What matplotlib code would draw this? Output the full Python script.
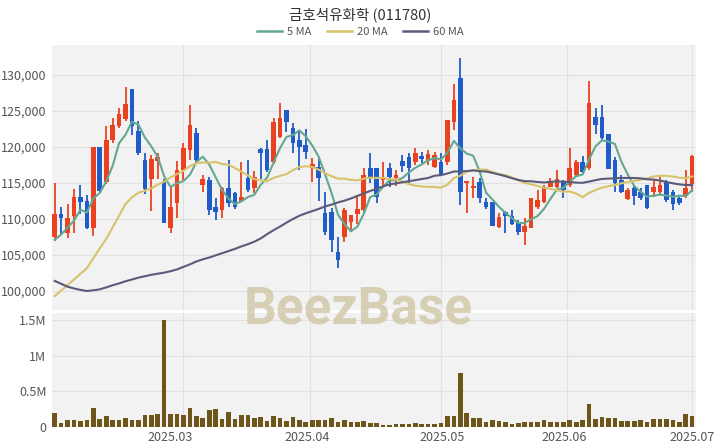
import matplotlib
matplotlib.use('Agg')
import matplotlib.pyplot as plt
import numpy as np
from matplotlib.lines import Line2D
from matplotlib.ticker import FuncFormatter, FixedLocator, NullFormatter, FixedFormatter

plt.rcParams['font.family'] = ['Noto Sans CJK KR', 'DejaVu Sans']

title = '금호석유화학 (011780)'

opens = [107500, 110700, 108080, 110430, 113100, 112545, 108785, 120065, 115130, 121005,
         122885, 123825, 128055, 122180, 118185, 115600, 118100, 115130, 108785, 112200,
         116800, 119600, 121900, 114700, 115400, 111700, 111250, 114250, 113550, 112500,
         115650, 114250, 119700, 119700, 117950, 121450, 125150, 122600, 120950, 120300,
         117100, 117250, 110800, 111000, 105450, 107550, 109650, 110650, 111250, 117150,
         117050, 115400, 117050, 115650, 118050, 118650, 117850, 118700, 118050, 117250,
         117850, 117850, 123500, 129550, 115050, 114250, 115200, 112400, 112400, 108950,
         111000, 110400, 109650, 108250, 108800, 111700, 112400, 114500, 114500, 115200,
         114700, 116100, 117850, 117050, 124200, 124200, 121750, 118200, 115400, 112800,
         114250, 113800, 114700, 113700, 113700, 115200, 113800, 112850, 113250, 114800]
highs = [115000, 111600, 112075, 114190, 114750, 113350, 120065, 120065, 122885, 124060,
         125470, 128290, 128055, 123590, 119125, 118890, 119200, 115600, 114425, 118000,
         120600, 125800, 122700, 116100, 115800, 112900, 114500, 118200, 113800, 117950,
         118200, 116600, 119900, 120950, 124000, 126150, 125150, 123300, 122350, 122500,
         118500, 118400, 113800, 111500, 107550, 111500, 110550, 113350, 117050, 119100,
         117050, 117950, 117750, 116800, 118900, 119100, 119900, 119300, 119600, 119350,
         119100, 123800, 128700, 132300, 115300, 115900, 115750, 112950, 112400, 110800,
         111100, 111250, 109850, 110100, 112900, 114000, 114700, 115750, 116800, 115400,
         119900, 118200, 118800, 129150, 125350, 125850, 121750, 118650, 116100, 114350,
         114700, 114250, 114700, 115400, 115900, 115400, 114000, 113100, 116800, 118950]
lows = [107000, 107900, 107375, 108080, 110665, 108550, 107610, 113800, 114900, 120535,
        122650, 123590, 121710, 118890, 113485, 111135, 115600, 109400, 108080, 110100,
        115400, 118200, 117950, 113800, 110550, 109850, 110100, 111700, 111450, 112400,
        113800, 113550, 115500, 116550, 117700, 121200, 122100, 119100, 116800, 118400,
        115200, 112500, 107800, 105450, 103150, 106850, 108250, 109250, 111000, 114950,
        112200, 114700, 114500, 114600, 116550, 115000, 117500, 117800, 117500, 117050,
        116000, 117500, 122350, 111950, 110800, 112850, 112200, 111400, 109050, 108800,
        108000, 109200, 107800, 106400, 108700, 111450, 112200, 114450, 114250, 112850,
        114500, 115900, 116200, 116800, 121750, 120950, 116900, 113800, 113550, 112650,
        111950, 112650, 111450, 113100, 113350, 112400, 111200, 111950, 112950, 113800]
closes = [110700, 110200, 110195, 113015, 112300, 108785, 120065, 113955, 121005, 123120,
          124530, 125940, 122885, 119125, 114190, 118325, 118650, 109490, 111605, 116800,
          119800, 123050, 118200, 115500, 111250, 111000, 114250, 112200, 111700, 113100,
          114000, 115800, 119200, 116800, 123500, 124000, 123500, 120500, 120050, 119300,
          117700, 115650, 108250, 107100, 104300, 111250, 110550, 111400, 116100, 115900,
          113100, 115900, 115900, 116100, 117400, 117050, 119100, 118300, 119000, 118900,
          116100, 123750, 126500, 113800, 115300, 114600, 112850, 111700, 109050, 110250,
          110450, 109250, 108250, 109050, 112850, 112650, 114250, 115250, 115550, 114000,
          117050, 117850, 116500, 126050, 123050, 121200, 116950, 114950, 113800, 114000,
          113250, 112950, 111500, 114500, 114700, 112650, 112100, 112200, 114250, 118800]
volumes = [197000, 56000, 103000, 103000, 84000, 103000, 267000, 117000, 150000, 103000,
           103000, 127000, 94000, 103000, 164000, 173000, 187000, 1500000, 187000, 187000,
           173000, 267000, 155000, 127000, 234000, 253000, 117000, 211000, 108000, 164000,
           164000, 127000, 141000, 84000, 150000, 122000, 80000, 141000, 103000, 75000,
           103000, 103000, 103000, 122000, 66000, 94000, 66000, 75000, 84000, 61000,
           61000, 33000, 28000, 37000, 47000, 47000, 56000, 37000, 47000, 47000,
           56000, 155000, 155000, 760000, 202000, 131000, 131000, 75000, 94000, 84000,
           70000, 47000, 56000, 66000, 66000, 66000, 98000, 66000, 66000, 66000,
           103000, 66000, 94000, 323000, 117000, 145000, 131000, 131000, 84000, 84000,
           84000, 103000, 66000, 117000, 108000, 117000, 94000, 66000, 187000, 150000]

ma5_head = [107100, 107850, 108800, 109800]
ma20_head = [99300, 100040, 100830, 101610, 102390, 103170, 104540, 105920, 107220, 108840,
             110460, 112080, 113010, 113650, 113930, 114260, 114770, 115180, 115790]
ma60_head = [101400, 101000, 100600, 100350, 100150, 100000, 100100, 100230, 100500, 100800,
             101050, 101350, 101600, 101850, 102050, 102250, 102400, 102550, 102750, 103000,
             103350, 103700, 104100, 104400, 104650, 104950, 105250, 105550, 105850, 106200,
             106500, 106850, 107300, 107900, 108450, 108950, 109500, 110000, 110450, 110800,
             111100, 111400, 111750, 112000, 112300, 112550, 112850, 113200, 113550, 113900,
             114200, 114550, 114800, 114950, 115100, 115250, 115400, 115550, 115700]

month_labels = ['2025.03', '2025.04', '2025.05', '2025.06', '2025.07']

price_ticks = [100000, 105000, 110000, 115000, 120000, 125000, 130000]
volume_ticks = [0, 500000, 1000000, 1500000]

# ---------------------------------------------------------------
# layout: x positions (in candle-index units) of the month grid lines and labels
grid_pos = [20, 39.6, 60, 79.5, 99]
label_pos = [18, 39.2, 60.2, 79.2, 99]

UP = '#ea4220'
DOWN = '#1f5cc9'
C5 = '#62a890'
C20 = '#d8c36a'
C60 = '#5a5a7a'
VOLC = '#6e5519'
BG = '#f2f2f2'
GRID = '#e1e1e1'
TXT = '#555555'

o = np.array(opens, float)
h = np.array(highs, float)
l = np.array(lows, float)
c = np.array(closes, float)
v = np.array(volumes, float)
n = len(c)
x = np.arange(n)


def sma(arr, w, head):
    out = np.full(len(arr), np.nan)
    for i in range(w - 1, len(arr)):
        out[i] = arr[i - w + 1:i + 1].mean()
    out[:len(head)] = head
    return out


ma5 = sma(c, 5, ma5_head)
ma20 = sma(c, 20, ma20_head)
ma60 = sma(c, 60, ma60_head)

fig = plt.figure(figsize=(7.2, 4.48), dpi=100)
W, H = 720, 448
left, right = 52, 696
ax = fig.add_axes([left / W, 1 - 309.5 / H, (right - left) / W, (309.5 - 45) / H])
axv = fig.add_axes([left / W, 1 - 427 / H, (right - left) / W, (427 - 313) / H], sharex=ax)

for a in (ax, axv):
    a.set_facecolor(BG)
    for s in a.spines.values():
        s.set_visible(False)
    a.set_axisbelow(True)
    a.tick_params(which='both', length=0, labelsize=9, colors=TXT, pad=4)
    a.grid(True, which='major', color=GRID, lw=0.8)

up = c >= o
colors = np.where(up, UP, DOWN)
ax.vlines(x, l, h, colors=colors, lw=1.3, zorder=2)
body_lo = np.minimum(o, c)
body_h = np.maximum(np.abs(c - o), 120)
ax.bar(x, body_h, bottom=body_lo, width=0.72, color=colors, zorder=3, linewidth=0)

ax.plot(x, ma5, color=C5, lw=1.5, zorder=4, label='5 MA')
ax.plot(x, ma20, color=C20, lw=1.5, zorder=4, label='20 MA')
ax.plot(x, ma60, color=C60, lw=1.5, zorder=4, label='60 MA')

ax.set_xlim(-0.42, n - 0.4)
ax.set_ylim(97430, 134170)
ax.set_yticks(price_ticks)
ax.yaxis.set_major_formatter(FuncFormatter(lambda val, p: f'{val:,.0f}'))

axv.bar(x, v, width=0.72, color=VOLC, zorder=3, linewidth=0)
axv.set_ylim(0, 1.6e6)
axv.set_yticks(volume_ticks)


def vfmt(val, p):
    if val == 0:
        return '0'
    m = val / 1e6
    return f'{m:g}M'


axv.yaxis.set_major_formatter(FuncFormatter(vfmt))
axv.xaxis.remove_overlapping_locs = False
ax.xaxis.remove_overlapping_locs = False
axv.xaxis.set_major_locator(FixedLocator(grid_pos))
axv.xaxis.set_major_formatter(NullFormatter())
axv.xaxis.set_minor_locator(FixedLocator(label_pos))
axv.xaxis.set_minor_formatter(FixedFormatter(month_labels))
axv.tick_params(axis='x', which='both', pad=3)
ax.tick_params(axis='x', which='both', labelbottom=False)

fig.text(0.5, 1 - 15 / H, title, ha='center', va='center', fontsize=10.5, color='#333333')

handles = [Line2D([], [], color=C5, lw=1.8), Line2D([], [], color=C20, lw=1.8),
           Line2D([], [], color=C60, lw=1.8)]
leg = fig.legend(handles, ['5 MA', '20 MA', '60 MA'], loc='center',
                 bbox_to_anchor=(0.5, 1 - 32 / H), ncol=3, frameon=False, fontsize=8,
                 handlelength=2.3, handletextpad=0.4, columnspacing=1.4)
for t in leg.get_texts():
    t.set_color(TXT)

fig.text(358 / W, 1 - 309 / H, 'BeezBase', ha='center', va='center', fontsize=37,
         fontweight='bold', family=['Roboto', 'DejaVu Sans'], color='#cdc4a0', alpha=0.75,
         zorder=10)

fig.savefig('out.png', dpi=100)
